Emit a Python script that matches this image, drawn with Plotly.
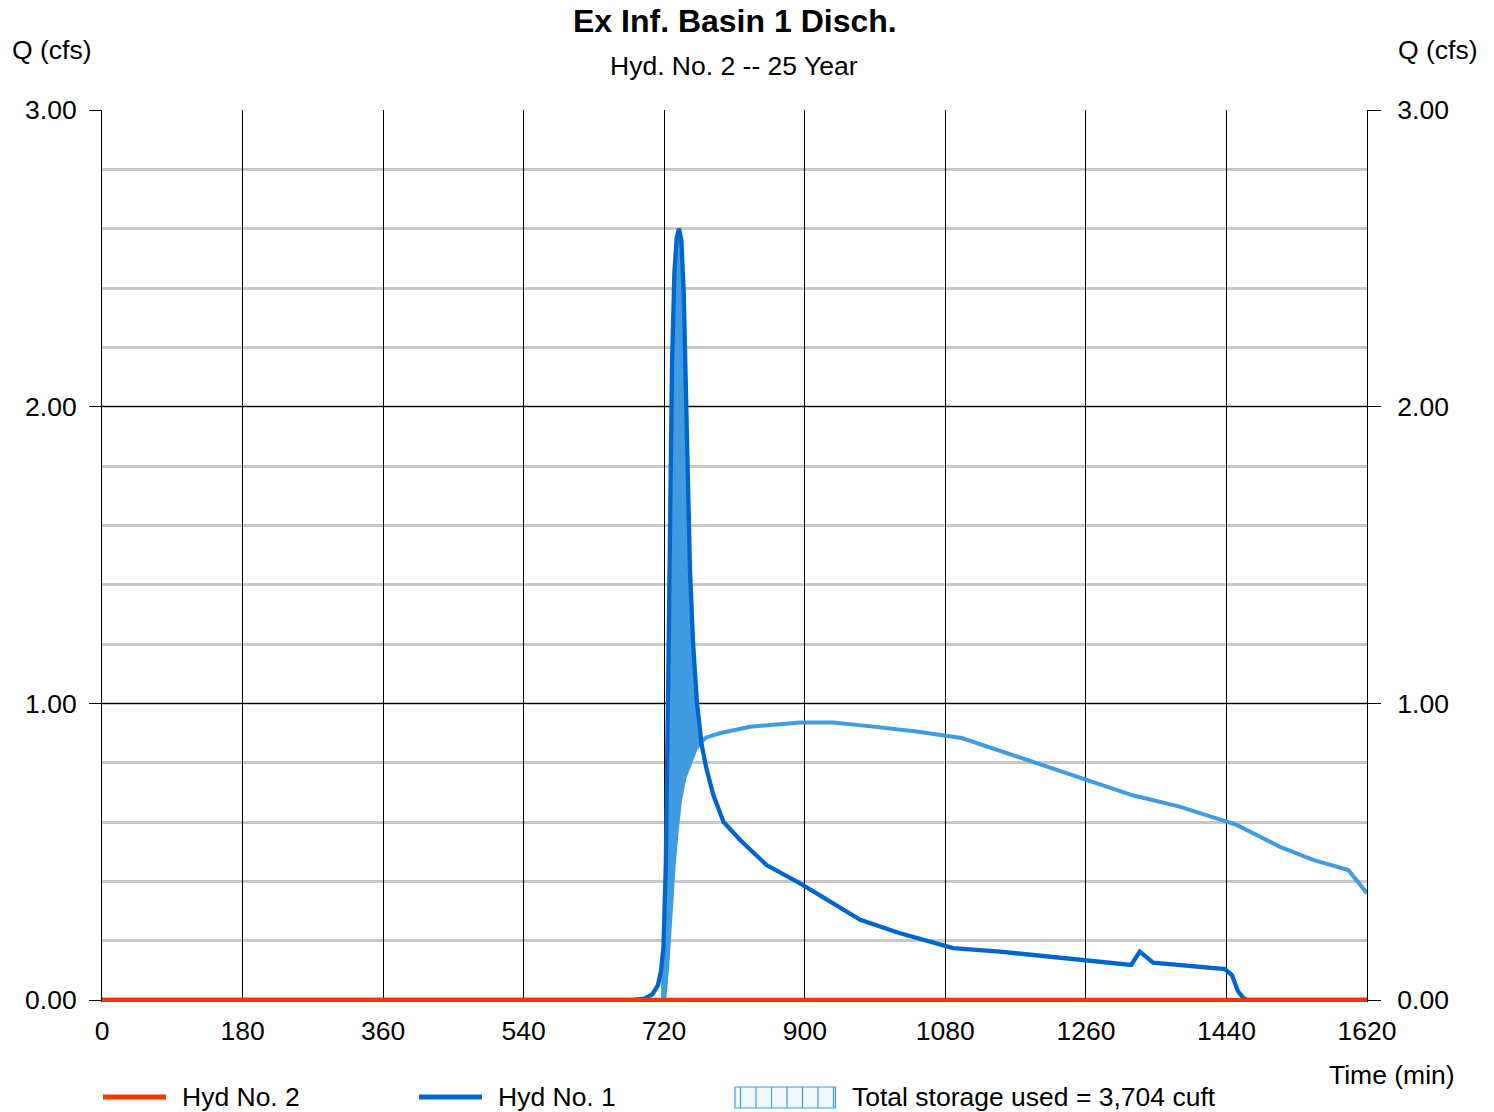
import numpy as np
import plotly.graph_objects as go

# ---------------- data ----------------
x_ticks = [0, 180, 360, 540, 720, 900, 1080, 1260, 1440, 1620]
y_ticks = [0.0, 1.0, 2.0, 3.0]
y_tick_text = ["0.00", "1.00", "2.00", "3.00"]

# Hyd No. 1 (inflow hydrograph)
hyd1_t = [0, 680, 695, 705, 712, 716, 719, 722, 725, 727.5, 730, 733, 736, 739,
          742, 745, 747.5, 750, 753, 757, 762, 768, 774, 783, 796, 817, 851, 894,
          936, 971, 1022, 1090, 1150, 1252, 1318, 1329, 1346, 1438, 1447, 1455,
          1462, 1467, 1620]
hyd1_q = [0, 0, 0.005, 0.02, 0.05, 0.10, 0.18, 0.45, 1.05, 1.65, 2.15, 2.45, 2.57, 2.60,
          2.56, 2.38, 2.10, 1.80, 1.45, 1.20, 1.00, 0.86, 0.78, 0.69, 0.60, 0.54, 0.455, 0.393,
          0.326, 0.27, 0.225, 0.175, 0.163, 0.137, 0.118, 0.163, 0.126, 0.104, 0.084, 0.028,
          0.006, 0.0, 0.0]

# Hyd No. 2 (basin discharge) - zero throughout
hyd2_t = [0, 1620]
hyd2_q = [0.0, 0.0]

# storage boundary line (light blue)
stor_t = [0, 720, 724, 728, 732, 736, 740, 746, 753, 760, 766, 774, 791, 830, 894, 936,
          979, 1043, 1101, 1150, 1260, 1320, 1380, 1440, 1453, 1508, 1551, 1596, 1620]
stor_q = [0, 0, 0.12, 0.30, 0.45, 0.57, 0.67, 0.75, 0.80, 0.845, 0.868, 0.885, 0.899, 0.921,
          0.935, 0.935, 0.924, 0.905, 0.883, 0.84, 0.743, 0.69, 0.652, 0.601, 0.59, 0.517,
          0.472, 0.438, 0.36]

legend_labels = ["Hyd No. 2", "Hyd No. 1", "Total storage used = 3,704 cuft"]
title_text = "Ex Inf. Basin 1 Disch."
subtitle_text = "Hyd. No. 2 -- 25 Year"

# ---------------- styling ----------------
W, H = 1494, 1112
ML, MR, MT, MB = 102, 127, 110, 110
PW, PH = W - ML - MR, H - MT - MB
FONT = "Liberation Sans, Arial, sans-serif"
RED = "#ff3300"
DARK = "#0066cc"
LIGHT = "#409be0"
FS = 26.5

def px(xp):
    return (xp - ML) / PW

def py(yp):
    return (H - MB - yp) / PH

y_lo = -(2.0 / (890.0 / 3.0))

# storage fill polygon (between inflow and storage line where inflow exceeds it)
grid = np.linspace(716, 772, 400)
up = np.interp(grid, hyd1_t, hyd1_q)
lo = np.interp(grid, stor_t, stor_q)
m = up >= lo
gx = grid[m]
fx = np.concatenate([gx, gx[::-1]])
fy = np.concatenate([up[m], lo[m][::-1]])

fig = go.Figure()
fig.add_trace(go.Scatter(x=fx, y=fy, fill="toself", fillcolor=LIGHT, mode="lines",
                         line=dict(width=0, color=LIGHT), showlegend=False, hoverinfo="skip"))
fig.add_trace(go.Scatter(x=stor_t, y=stor_q, mode="lines", line=dict(color=LIGHT, width=4),
                         showlegend=False))
fig.add_trace(go.Scatter(x=hyd1_t, y=hyd1_q, mode="lines", line=dict(color=DARK, width=4.3),
                         name=legend_labels[1], showlegend=False))
fig.add_trace(go.Scatter(x=hyd2_t, y=hyd2_q, mode="lines", line=dict(color=RED, width=4.5),
                         name=legend_labels[0], showlegend=False))
fig.add_trace(go.Scatter(x=hyd2_t, y=hyd2_q, yaxis="y2", mode="lines",
                         line=dict(width=0), opacity=0, showlegend=False, hoverinfo="skip"))

tickfont = dict(family=FONT, size=FS, color="black")

fig.update_layout(
    width=W, height=H,
    margin=dict(l=ML, r=MR, t=MT, b=MB, pad=0),
    paper_bgcolor="white", plot_bgcolor="white",
    showlegend=False,
    xaxis=dict(range=[0, 1620], tickvals=x_ticks, ticks="", showgrid=True,
               gridcolor="black", gridwidth=1, zeroline=False, showline=False,
               tickfont=tickfont, ticklabelstandoff=10),
    yaxis=dict(range=[y_lo, 3.0], tickvals=y_ticks, ticktext=y_tick_text,
               ticks="outside", ticklen=12, tickcolor="black", tickwidth=1,
               showgrid=True, gridcolor="black", gridwidth=1, zeroline=False,
               showline=True, linecolor="black", linewidth=1,
               minor=dict(dtick=0.2, tick0=0, showgrid=True, gridcolor="#c8c8c8",
                          gridwidth=2.5, ticks=""),
               tickfont=tickfont, ticklabelstandoff=7),
    yaxis2=dict(range=[y_lo, 3.0], tickvals=y_ticks, ticktext=y_tick_text,
                overlaying="y", side="right", ticks="outside", ticklen=13,
                tickcolor="black", tickwidth=1, showgrid=False, zeroline=False,
                showline=True, linecolor="black", linewidth=1,
                tickfont=tickfont, ticklabelstandoff=11),
)

ann = []
def add_text(text, x, y, size=FS, xanchor="left", bold=False):
    ann.append(dict(text=f"<b>{text}</b>" if bold else text, x=px(x), y=py(y),
                    xref="paper", yref="paper", xanchor=xanchor, yanchor="middle",
                    showarrow=False, font=dict(family=FONT, size=size, color="black")))

add_text(title_text, 735, 21, size=32, xanchor="center", bold=True)
add_text(subtitle_text, 734, 66, xanchor="center")
add_text("Q (cfs)", 10, 50)
add_text("Q (cfs)", 1396, 50)
add_text("Time (min)", 1392, 1075, xanchor="center")
add_text(legend_labels[0], 180, 1097)
add_text(legend_labels[1], 496, 1097)
add_text(legend_labels[2], 850, 1097)
fig.update_layout(annotations=ann)

shapes = []
shapes.append(dict(type="line", xref="paper", yref="paper", x0=px(103), x1=px(166),
                   y0=py(1097), y1=py(1097), line=dict(color=RED, width=5)))
shapes.append(dict(type="line", xref="paper", yref="paper", x0=px(419), x1=px(482),
                   y0=py(1097), y1=py(1097), line=dict(color=DARK, width=5)))
shapes.append(dict(type="rect", xref="paper", yref="paper", x0=px(735), x1=px(835.5),
                   y0=py(1108), y1=py(1087), line=dict(color=LIGHT, width=1.2),
                   fillcolor="rgba(64,155,224,0.08)"))
for xv in [740.5, 756, 771.5, 787, 802.5, 818, 833.5]:
    shapes.append(dict(type="line", xref="paper", yref="paper", x0=px(xv), x1=px(xv),
                       y0=py(1108), y1=py(1087), line=dict(color=LIGHT, width=1.2)))
fig.update_layout(shapes=shapes)

fig.write_html("out.html", config={"displayModeBar": False},
               post_script="document.body.style.margin='0';document.body.style.overflow='hidden';")
